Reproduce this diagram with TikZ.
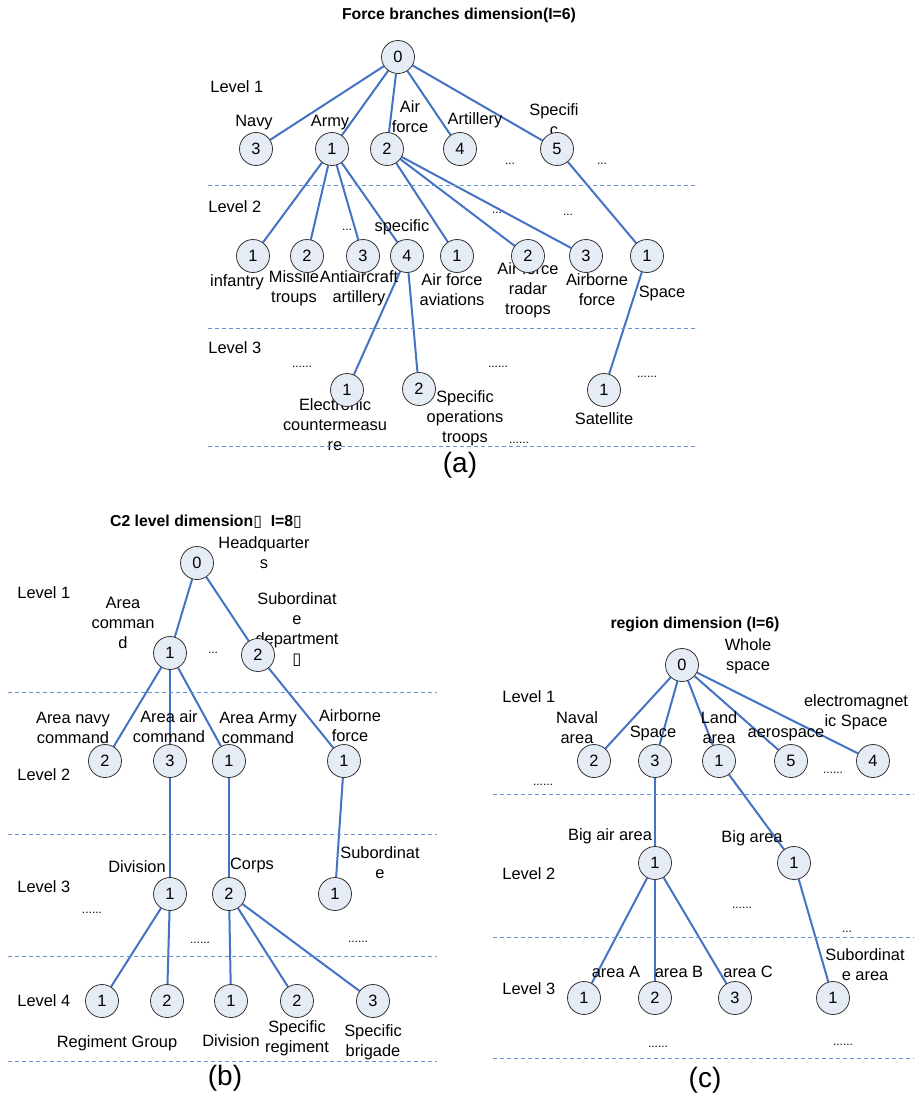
\documentclass[tikz,border=0pt]{standalone}
\usepackage{fontspec}
\setmainfont{Liberation Sans}
\newfontfamily\tofufont{DejaVu Sans}
\usetikzlibrary{backgrounds}
\definecolor{edgeblue}{RGB}{68,114,196}
\definecolor{vertfill}{RGB}{230,236,246}
\definecolor{sepblue}{RGB}{100,148,214}
\newcommand{\tofu}{{\tofufont ▯}}
\tikzstyle{vert}=[circle, draw=black!80, fill=vertfill, line width=0.4pt, minimum size=16.5pt, inner sep=0pt, font=\fontsize{8.2}{10}\selectfont]
\tikzstyle{lbl}=[align=center, inner sep=0pt, font=\fontsize{8.2}{10}\selectfont]
\tikzstyle{lvl}=[anchor=west, inner sep=0pt, font=\fontsize{8.2}{10}\selectfont]
\tikzstyle{dots}=[inner sep=0pt, font=\fontsize{6}{7}\selectfont]
\tikzstyle{ttl}=[inner sep=0pt, font=\bfseries\fontsize{7.9}{9}\selectfont]
\tikzstyle{subcap}=[inner sep=0pt, font=\fontsize{14}{16}\selectfont]
\tikzstyle{edge}=[draw=edgeblue, line width=1pt]
\tikzstyle{levelsep}=[draw=sepblue, line width=0.4pt, dash pattern=on 2pt off 1.5pt]

\begin{document}
\begin{tikzpicture}[x=0.5pt, y=-0.5pt]
\useasboundingbox (0,0) rectangle (914,1097);

% ---- (a) force branches ----
\node[ttl] (ta) at (459,15) {Force branches dimension(I=6)};
\node[lvl] (la1) at (210,87) {Level 1};
\node[lvl] (la2) at (208,207) {Level 2};
\node[lvl] (la3) at (208,348) {Level 3};
\node[lbl] at (254,123) {Navy};
\node[lbl] at (330,123) {Army};
\node[lbl] at (410,117) {Air\\force};
\node[lbl] at (475,120) {Artillery};
\node[lbl] at (554,120) {Specifi\\c};
\node[lbl] at (237,282) {infantry};
\node[lbl] at (294,288) {Missile\\troups};
\node[lbl] at (359,288) {Antiaircraft\\artillery};
\node[lbl] at (402,227) {specific};
\node[lbl] at (452,290) {Air force\\aviations};
\node[lbl] at (528,290) {Air force\\radar\\troops};
\node[lbl] at (597,290) {Airborne\\force};
\node[lbl] at (662,293) {Space};
\node[lbl] at (335,425) {Electronic\\countermeasu\\re};
\node[lbl] at (465,418) {Specific\\operations\\troops};
\node[lbl] at (604,419) {Satellite};
\node[dots] at (510,164) {...};
\node[dots] at (602,164) {...};
\node[dots] at (347,230) {...};
\node[dots] at (497,213) {...};
\node[dots] at (568,215) {...};
\node[dots] at (302,367) {......};
\node[dots] at (498,367) {......};
\node[dots] at (647,377) {......};
\node[dots] at (519,443) {......};
\draw[levelsep] (208,185) -- (697,185);
\draw[levelsep] (208,328) -- (697,328);
\draw[levelsep] (208,446) -- (697,446);
\node[subcap] at (460,465) {(a)};

\node[vert] (a0) at (398,57) {0};
\node[vert] (aNavy) at (256,149) {3};
\node[vert] (aArmy) at (332,149) {1};
\node[vert] (aAir) at (387,149) {2};
\node[vert] (aArt) at (460,149) {4};
\node[vert] (aSpec) at (557,149) {5};
\node[vert] (aInf) at (253,256) {1};
\node[vert] (aMis) at (307,256) {2};
\node[vert] (aAnti) at (363,256) {3};
\node[vert] (aSp4) at (407,256) {4};
\node[vert] (aAvi) at (457,256) {1};
\node[vert] (aRad) at (528,256) {2};
\node[vert] (aAirb) at (586,256) {3};
\node[vert] (aSpace) at (647,256) {1};
\node[vert] (aEcm) at (347,390) {1};
\node[vert] (aSot) at (419,389) {2};
\node[vert] (aSat) at (604,390) {1};

% ---- (b) C2 level ----
\node[ttl] (tb) at (206,522) {C2 level dimension\tofu\ \ I=8\tofu};
\node[lvl] (lb1) at (17,593) {Level 1};
\node[lvl] (lb2) at (17,775) {Level 2};
\node[lvl] (lb3) at (17,887) {Level 3};
\node[lvl] (lb4) at (17,1001) {Level 4};
\node[lbl] at (264,553) {Headquarter\\s};
\node[lbl] at (123,623) {Area\\comman\\d};
\node[lbl] at (297,630) {Subordinat\\e\\department\\\tofu};
\node[lbl] at (73,728) {Area navy\\command};
\node[lbl] at (169,727) {Area air\\command};
\node[lbl] at (258,728) {Area Army\\command};
\node[lbl] at (350,726) {Airborne\\force};
\node[lbl] at (137,867) {Division};
\node[lbl] at (252,865) {Corps};
\node[lbl] at (380,863) {Subordinat\\e};
\node[lbl] at (117,1043) {Regiment Group};
\node[lbl] at (231,1041) {Division};
\node[lbl] at (297,1038) {Specific\\regiment};
\node[lbl] at (373,1042) {Specific\\brigade};
\node[dots] at (213,653) {...};
\node[dots] at (92,913) {......};
\node[dots] at (200,943) {......};
\node[dots] at (358,942) {......};
\draw[levelsep] (8,692) -- (437,692);
\draw[levelsep] (8,834) -- (437,834);
\draw[levelsep] (8,956) -- (437,956);
\draw[levelsep] (8,1061) -- (437,1061);
\node[subcap] at (225,1078) {(b)};

\node[vert] (b0) at (197,563) {0};
\node[vert] (bArea) at (170,653) {1};
\node[vert] (bSub) at (258,655) {2};
\node[vert] (bNavy) at (105,761) {2};
\node[vert] (bAirc) at (170,761) {3};
\node[vert] (bArmy) at (229,761) {1};
\node[vert] (bAirb) at (344,761) {1};
\node[vert] (bDiv) at (170,894) {1};
\node[vert] (bCorps) at (229,894) {2};
\node[vert] (bSubo) at (335,894) {1};
\node[vert] (bReg) at (102,1001) {1};
\node[vert] (bGrp) at (167,1001) {2};
\node[vert] (bDiv4) at (231,1001) {1};
\node[vert] (bSreg) at (297,1001) {2};
\node[vert] (bSbri) at (373,1001) {3};

% ---- (c) region ----
\node[ttl] (tc) at (695,624) {region dimension (I=6)};
\node[lvl] (lc1) at (502,697) {Level 1};
\node[lvl] (lc2) at (502,874) {Level 2};
\node[lvl] (lc3) at (502,989) {Level 3};
\node[lbl] at (748,656) {Whole\\space};
\node[lbl] at (577,728) {Naval\\area};
\node[lbl] at (653,733) {Space};
\node[lbl] at (719,728) {Land\\area};
\node[lbl] at (786,735) {aerospace};
\node[lbl] at (856,712) {electromagnet\\ic Space};
\node[lbl] at (610,836) {Big air area};
\node[lbl] at (752,838) {Big area};
\node[lbl] at (616,972) {area A};
\node[lbl] at (679,972) {area B};
\node[lbl] at (748,972) {area C};
\node[lbl] at (865,965) {Subordinat\\e area};
\node[dots] at (833,773) {......};
\node[dots] at (543,785) {......};
\node[dots] at (742,908) {......};
\node[dots] at (847,932) {...};
\node[dots] at (658,1047) {......};
\node[dots] at (843,1045) {......};
\draw[levelsep] (493,794) -- (914,794);
\draw[levelsep] (493,937) -- (914,937);
\draw[levelsep] (493,1058) -- (914,1058);
\node[subcap] at (705,1080) {(c)};

\node[vert] (c0) at (682,665) {0};
\node[vert] (cNaval) at (594,761) {2};
\node[vert] (cSpace) at (655,761) {3};
\node[vert] (cLand) at (719,761) {1};
\node[vert] (cAero) at (791,761) {5};
\node[vert] (cEm) at (873,761) {4};
\node[vert] (cBigair) at (655,863) {1};
\node[vert] (cBig) at (794,863) {1};
\node[vert] (cA) at (584,998) {1};
\node[vert] (cB) at (655,998) {2};
\node[vert] (cC) at (735,998) {3};
\node[vert] (cSubarea) at (833,998) {1};

% connectors, behind the circles
\begin{scope}[on background layer]
  \foreach \v in {aNavy, aArmy, aAir, aArt, aSpec} \draw[edge] (a0) -- (\v);
  \foreach \v in {aInf, aMis, aAnti, aSp4} \draw[edge] (aArmy) -- (\v);
  \foreach \v in {aAvi, aRad, aAirb} \draw[edge] (aAir) -- (\v);
  \draw[edge] (aSpec) -- (aSpace);
  \draw[edge] (aSp4) -- (aEcm);
  \draw[edge] (aSp4) -- (aSot);
  \draw[edge] (aSpace) -- (aSat);
  \foreach \v in {bArea, bSub} \draw[edge] (b0) -- (\v);
  \foreach \v in {bNavy, bAirc, bArmy} \draw[edge] (bArea) -- (\v);
  \draw[edge] (bSub) -- (bAirb);
  \draw[edge] (bAirc) -- (bDiv);
  \draw[edge] (bArmy) -- (bCorps);
  \draw[edge] (bAirb) -- (bSubo);
  \foreach \v in {bReg, bGrp} \draw[edge] (bDiv) -- (\v);
  \foreach \v in {bDiv4, bSreg, bSbri} \draw[edge] (bCorps) -- (\v);
  \foreach \v in {cNaval, cSpace, cLand, cAero, cEm} \draw[edge] (c0) -- (\v);
  \draw[edge] (cSpace) -- (cBigair);
  \draw[edge] (cLand) -- (cBig);
  \foreach \v in {cA, cB, cC} \draw[edge] (cBigair) -- (\v);
  \draw[edge] (cBig) -- (cSubarea);
\end{scope}
\end{tikzpicture}
\end{document}
